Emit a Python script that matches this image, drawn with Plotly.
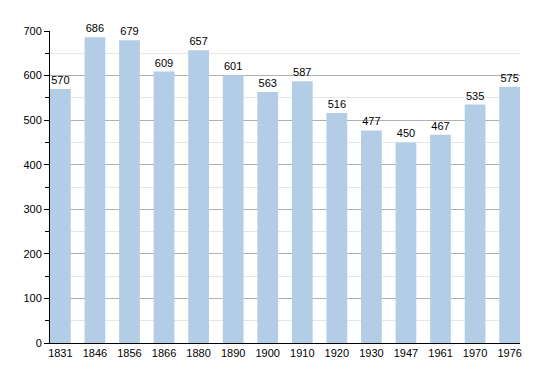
import plotly.graph_objects as go

years = ["1831", "1846", "1856", "1866", "1880", "1890", "1900", "1910", "1920", "1930", "1947", "1961", "1970", "1976"]
population = [570, 686, 679, 609, 657, 601, 563, 587, 516, 477, 450, 467, 535, 575]

fig = go.Figure(go.Bar(
    x=list(range(len(years))),
    y=population,
    width=0.6,
    marker=dict(color="#b3cde6", line=dict(width=0)),
    text=[str(v) for v in population],
    textposition="outside",
    textfont=dict(family="Liberation Sans, Arial", size=11, color="#000"),
    cliponaxis=False,
))

fig.update_layout(
    width=550, height=373,
    margin=dict(l=42, r=38, t=23, b=38),
    plot_bgcolor="white", paper_bgcolor="white",
    font=dict(family="Liberation Sans, Arial", size=11, color="#000"),
    showlegend=False,
    bargap=0.4,
)
fig.update_xaxes(
    tickmode="array", tickvals=list(range(len(years))), ticktext=years,
    range=[-0.3, len(years) - 1 + 0.3],
    showline=True, linecolor="#000", linewidth=1,
    showgrid=False, ticks="", zeroline=False,
)
fig.update_yaxes(
    range=[0, 700], dtick=100,
    showline=True, linecolor="#000", linewidth=1,
    showgrid=True, gridcolor="#b0b0b0", gridwidth=1,
    ticks="outside", ticklen=5, tickcolor="#000",
    minor=dict(dtick=50, showgrid=True, gridcolor="#e6e6e6", ticks="outside", ticklen=4, tickcolor="#000"),
    zeroline=False,
)

fig.write_html("out.html")
